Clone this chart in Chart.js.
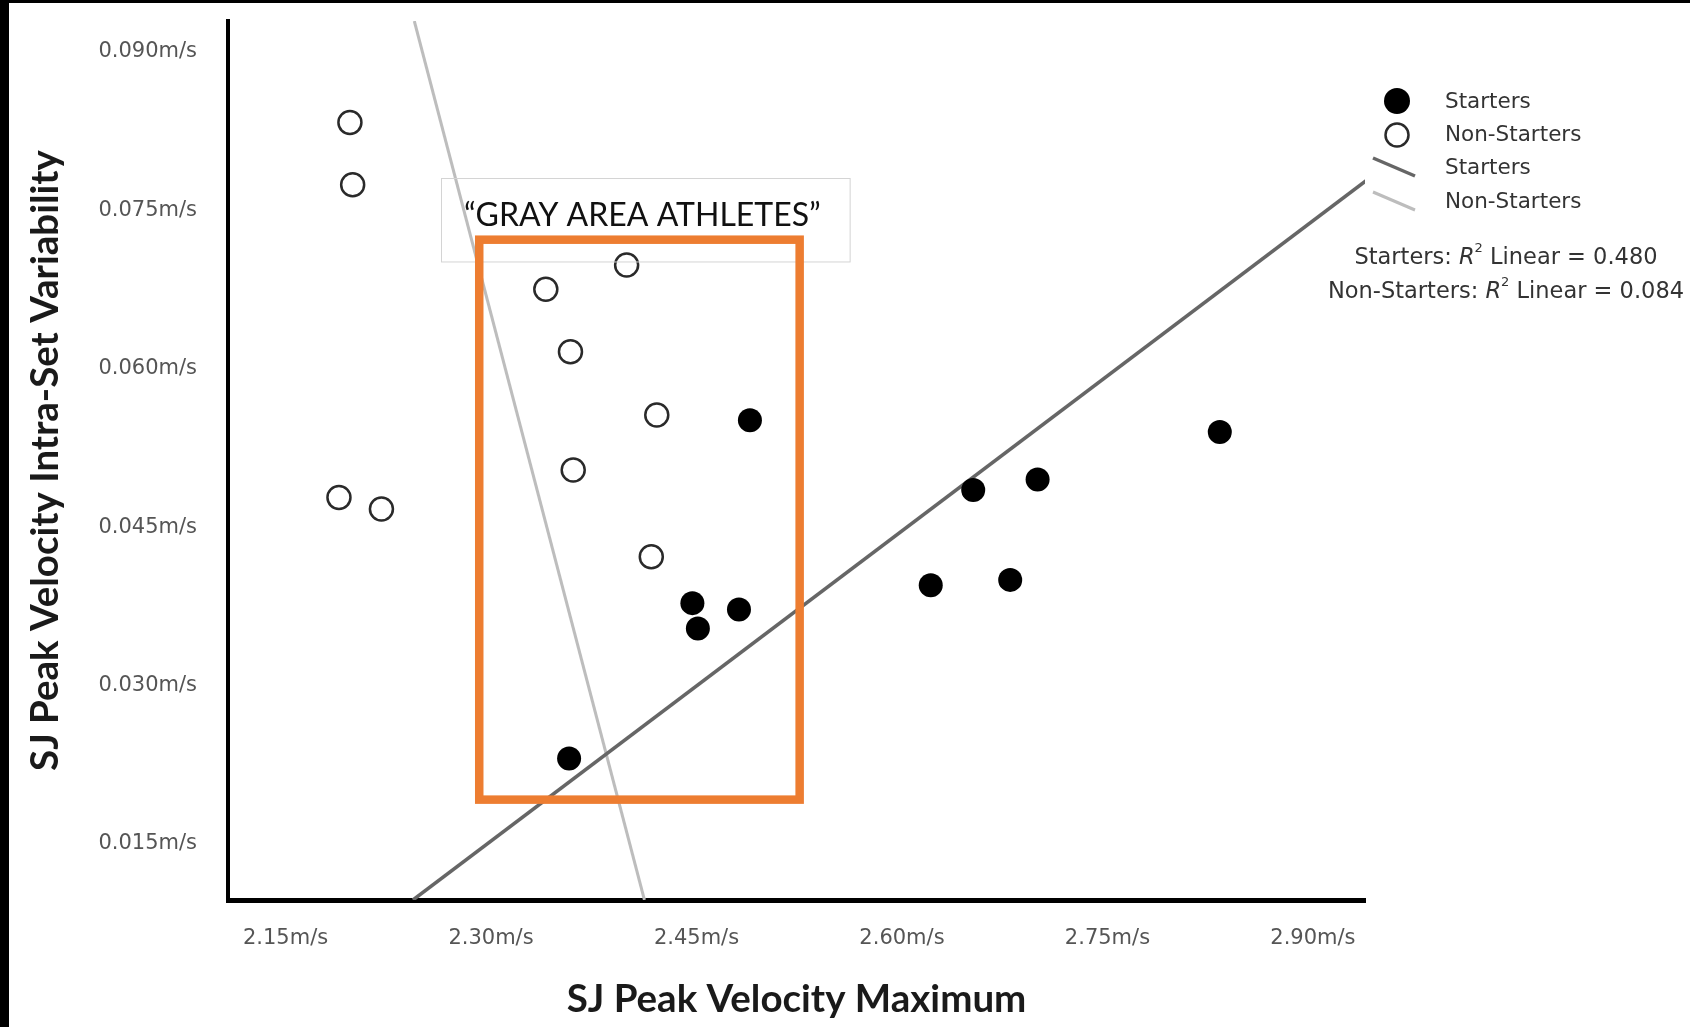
<!DOCTYPE html>
<html>
<head>
<meta charset="utf-8">
<title>SJ Peak Velocity</title>
<script src="https://cdn.jsdelivr.net/npm/chart.js@4.4.1/dist/chart.umd.min.js"></script>
<style>
  html, body { margin: 0; padding: 0; background: #fff; }
  canvas { display: block; }
</style>
</head>
<body>
<canvas id="chartGrayArea" width="1690" height="1027"></canvas>
<script>
// values
const startersX = [2.489, 2.447, 2.451, 2.481, 2.357, 2.621, 2.652, 2.679, 2.699, 2.832];
const startersY = [0.0551, 0.0378, 0.0354, 0.0372, 0.0231, 0.0395, 0.0485, 0.0400, 0.0495, 0.0540];
const nonStartersX = [2.197, 2.199, 2.189, 2.220, 2.340, 2.399, 2.358, 2.421, 2.360, 2.417];
const nonStartersY = [0.0833, 0.0774, 0.0478, 0.0467, 0.0675, 0.0698, 0.0616, 0.0556, 0.0504, 0.0422];

// fit lines, end points as drawn
const startersFitX = [2.243, 2.939];
const startersFitY = [0.0097, 0.0778];
const nonStartersFitX = [2.244, 2.412];
const nonStartersFitY = [0.0929, 0.0097];

const xTicks = [2.15, 2.30, 2.45, 2.60, 2.75, 2.90];
const xTickLabels = ['2.15m/s', '2.30m/s', '2.45m/s', '2.60m/s', '2.75m/s', '2.90m/s'];
const yTicks = [0.015, 0.030, 0.045, 0.060, 0.075, 0.090];
const yTickLabels = ['0.015m/s', '0.030m/s', '0.045m/s', '0.060m/s', '0.075m/s', '0.090m/s'];

const fitGroups = ['Starters', 'Non-Starters'];
const fitRSquared = ['0.480', '0.084'];

// annotation box around the "gray area" athletes, in data units
const grayBox = { xMin: 2.2914, xMax: 2.5253, yMin: 0.0192, yMax: 0.0722 };
const labelBox = { xMin: 2.2635, xMax: 2.5618, yMin: 0.0701, yMax: 0.0780 };
const labelText = '\u201CGRAY AREA ATHLETES\u201D';

function toPoints(xs, ys) {
  return xs.map((x, i) => ({ x: x, y: ys[i] }));
}

const tickFont = { family: '"DejaVu Sans"', size: 21 };
const titleFont = { family: 'Lato', size: 38.5, weight: 'bold' };

const frame = {
  id: 'frame',
  beforeDraw(chart) {
    const ctx = chart.ctx;
    ctx.save();
    ctx.fillStyle = '#fff';
    ctx.fillRect(0, 0, chart.width, chart.height);
    ctx.fillStyle = '#000';
    ctx.fillRect(0, 0, chart.width, 3);
    ctx.fillRect(0, 0, 9, chart.height);
    ctx.restore();
  }
};

const grayArea = {
  id: 'grayArea',
  afterDatasetsDraw(chart) {
    const ctx = chart.ctx;
    const xs = chart.scales.x, ys = chart.scales.y;
    ctx.save();
    // label frame
    let l = xs.getPixelForValue(labelBox.xMin), r = xs.getPixelForValue(labelBox.xMax);
    let t = ys.getPixelForValue(labelBox.yMax), b = ys.getPixelForValue(labelBox.yMin);
    ctx.strokeStyle = '#d4d4d4';
    ctx.lineWidth = 1;
    ctx.strokeRect(Math.round(l) + 0.5, Math.round(t) + 0.5, r - l, b - t);
    // orange box
    l = xs.getPixelForValue(grayBox.xMin); r = xs.getPixelForValue(grayBox.xMax);
    t = ys.getPixelForValue(grayBox.yMax); b = ys.getPixelForValue(grayBox.yMin);
    ctx.strokeStyle = '#ED7D31';
    ctx.lineWidth = 8.5;
    ctx.strokeRect(l, t, r - l, b - t);
    // label
    ctx.fillStyle = '#111';
    ctx.font = '32px Lato';
    ctx.textAlign = 'center';
    ctx.textBaseline = 'middle';
    ctx.fillText(labelText,
      xs.getPixelForValue((labelBox.xMin + labelBox.xMax) / 2) - 3,
      ys.getPixelForValue((labelBox.yMin + labelBox.yMax) / 2) - 4);
    ctx.restore();
  }
};

const sideLegend = {
  id: 'sideLegend',
  afterDraw(chart) {
    const ctx = chart.ctx;
    const ds = chart.data.datasets;
    const markX = 1397, textX = 1445;
    const rows = [102, 135, 168, 202];
    ctx.save();
    // point markers
    ctx.beginPath();
    ctx.arc(markX, rows[0] - 1, 13, 0, Math.PI * 2);
    ctx.fillStyle = ds[0].backgroundColor;
    ctx.fill();
    ctx.beginPath();
    ctx.arc(markX, rows[1], 11.5, 0, Math.PI * 2);
    ctx.fillStyle = ds[1].backgroundColor;
    ctx.fill();
    ctx.lineWidth = ds[1].borderWidth;
    ctx.strokeStyle = ds[1].borderColor;
    ctx.stroke();
    // line markers
    [2, 3].forEach(i => {
      ctx.beginPath();
      ctx.moveTo(markX - 24, rows[i] - 10);
      ctx.lineTo(markX + 18, rows[i] + 8);
      ctx.strokeStyle = ds[i].borderColor;
      ctx.lineWidth = ds[i].borderWidth;
      ctx.stroke();
    });
    ctx.fillStyle = '#333';
    ctx.font = '21.5px "DejaVu Sans"';
    ctx.textAlign = 'left';
    ctx.textBaseline = 'middle';
    ds.forEach((d, i) => ctx.fillText(d.label, textX, rows[i]));

    // R squared notes
    const cx = 1506;
    const lines = [258, 292];
    fitGroups.forEach((g, i) => {
      const parts = [
        [g + ': ', '22.5px "DejaVu Sans"', 0],
        ['R', 'italic 22.5px "DejaVu Sans"', 0],
        ['2', '13px "DejaVu Sans"', -9],
        [' Linear = ' + fitRSquared[i], '22.5px "DejaVu Sans"', 0]
      ];
      let w = 0;
      parts.forEach(p => { ctx.font = p[1]; w += ctx.measureText(p[0]).width; });
      let x = cx - w / 2;
      parts.forEach(p => {
        ctx.font = p[1];
        ctx.fillText(p[0], x, lines[i] + p[2]);
        x += ctx.measureText(p[0]).width;
      });
    });
    ctx.restore();
  }
};

new Chart(document.getElementById('chartGrayArea').getContext('2d'), {
  type: 'scatter',
  data: {
    datasets: [
      {
        label: 'Starters',
        data: toPoints(startersX, startersY),
        backgroundColor: '#000',
        borderColor: '#000',
        borderWidth: 0,
        pointRadius: 12,
        pointHoverRadius: 12
      },
      {
        label: 'Non-Starters',
        data: toPoints(nonStartersX, nonStartersY),
        backgroundColor: '#fff',
        borderColor: '#2a2a2a',
        borderWidth: 2.5,
        pointRadius: 11.5,
        pointHoverRadius: 11.5
      },
      {
        label: 'Starters',
        data: toPoints(startersFitX, startersFitY),
        showLine: true,
        borderColor: '#666',
        borderWidth: 3.5,
        pointRadius: 0,
        clip: 0
      },
      {
        label: 'Non-Starters',
        data: toPoints(nonStartersFitX, nonStartersFitY),
        showLine: true,
        borderColor: '#bdbdbd',
        borderWidth: 3,
        pointRadius: 0,
        clip: 0
      }
    ]
  },
  options: {
    responsive: false,
    animation: false,
    events: [],
    layout: { padding: { top: 21, right: 325, bottom: 0, left: 0 } },
    plugins: {
      legend: { display: false },
      tooltip: { enabled: false }
    },
    scales: {
      x: {
        type: 'linear',
        min: 2.108,
        max: 2.938,
        afterBuildTicks: s => { s.ticks = xTicks.map(v => ({ value: v })); },
        afterFit: s => { s.height = 127; s.paddingLeft = 0; s.paddingRight = 0; },
        ticks: {
          callback: (v, i) => xTickLabels[i],
          font: tickFont,
          color: '#555',
          padding: 26,
          maxRotation: 0,
          autoSkip: false
        },
        grid: { display: false, drawTicks: false },
        border: { display: true, color: '#000', width: 5 },
        title: {
          display: true,
          text: 'SJ Peak Velocity Maximum',
          font: titleFont,
          color: '#1a1a1a',
          padding: { top: 0, bottom: 4 }
        }
      },
      y: {
        type: 'linear',
        min: 0.0097,
        max: 0.0929,
        afterBuildTicks: s => { s.ticks = yTicks.map(v => ({ value: v })); },
        afterFit: s => { s.width = 228; s.paddingTop = 0; s.paddingBottom = 0; },
        ticks: {
          callback: (v, i) => yTickLabels[i],
          font: tickFont,
          color: '#555',
          padding: 31,
          autoSkip: false
        },
        grid: { display: false, drawTicks: false },
        border: { display: true, color: '#000', width: 4 },
        title: {
          display: true,
          text: 'SJ Peak Velocity Intra-Set Variability',
          font: titleFont,
          color: '#1a1a1a',
          padding: { top: 22, bottom: 0 }
        }
      }
    }
  },
  plugins: [frame, grayArea, sideLegend]
});
</script>
</body>
</html>
